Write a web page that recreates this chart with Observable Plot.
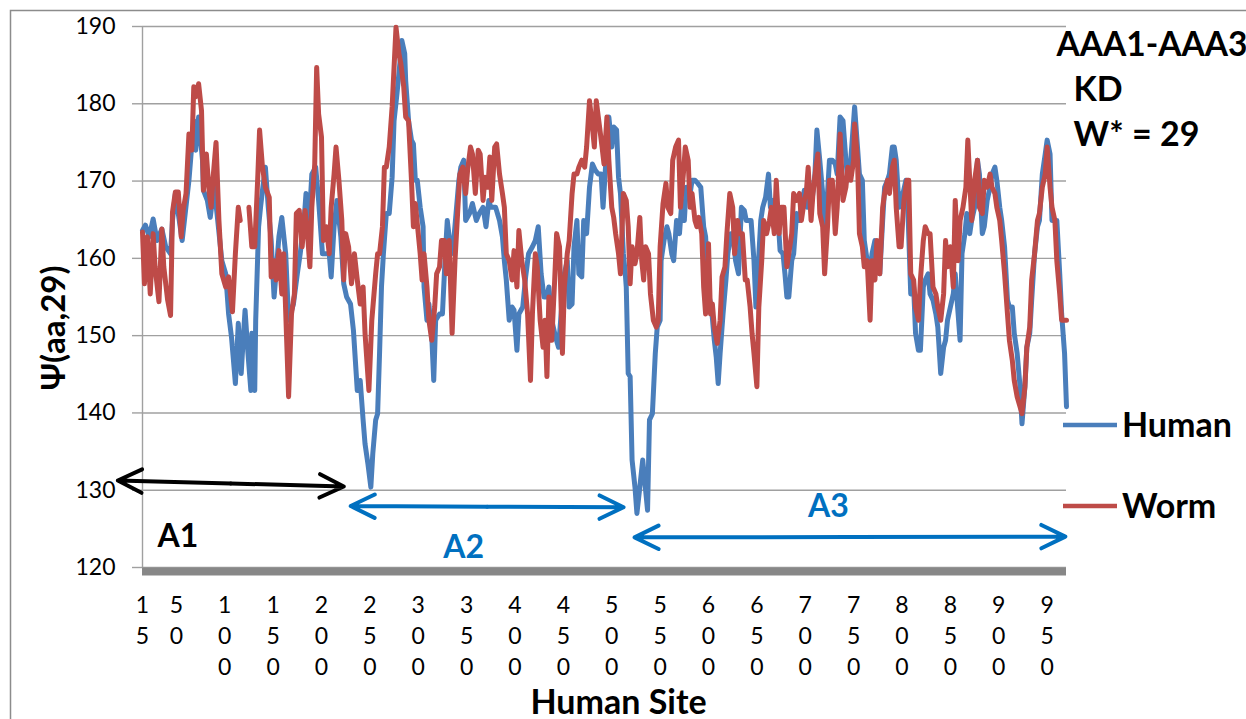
<!DOCTYPE html>
<html><head><meta charset="utf-8">
<script src="https://cdn.jsdelivr.net/npm/d3@7"></script>
<script src="https://cdn.jsdelivr.net/npm/@observablehq/plot@0.6"></script>
<style>html,body{margin:0;padding:0;background:#fff;overflow:hidden}#chart svg{display:block}</style>
</head><body><div id="chart"></div>
<script>
// ---- data ----
const xTickSites = [15,50,100,150,200,250,300,350,400,450,500,550,600,650,700,750,800,850,900,950];
const yTicks = [120,130,140,150,160,170,180,190];

const humanSite = [
15,18,22,26,30,35,39,44,46,49, 56,63,68,70,73,77,78,82,85,89, 92,97,101,104,107,109,111,114,117,119,
121,124,127,128,131,132,135,137,139,142, 145,148,151,153,156,159,163,166,168,171, 175,178,182,184,187,190,194,197,201,204,
208,210,213,216,220,223,226,230,233,237, 240,243,245,248,251,253,256,258,260,262, 264,267,270,273,275,278,281,283,286,287,
290,293,295,297,299,302,305,306,309,311, 314,316,318,322,325,328,330,334,337,342, 344,347,349,353,356,360,363,367,370,373,
375,378,380,384,387,389,391,394,397,399, 402,404,408,411,414,418,421,424,427,430, 433,435,438,442,445,448,451,454,456,459,
461,464,466,469,471,474,477,480,483,486, 489,491,494,497,500,502,505,507,509,512, 514,515,517,519,521,524,526,529,532,534,
537,539,542,545,547,550,551,554,557,559, 562,564,567,570,572,575,577,581,583,586, 589,592,595,597,600,603,606,608,610,612,
615,618,620,623,625,628,631,634,637,639, 642,644,647,649,651,654,656,659,662,664, 667,670,672,674,677,679,681,683,686,688,
691,694,696,699,702,705,707,710,712,715, 718,720,723,725,728,731,733,736,739,742, 744,747,750,751,754,756,759,761,764,767,
769,772,774,777,780,782,785,787,790,792, 794,797,799,801,804,806,809,812,814,817, 819,822,824,827,829,832,835,837,840,843,
845,847,850,853,855,858,860,862,865,867, 870,872,875,878,880,883,885,888,891,893, 896,898,901,903,906,909,911,914,916,919,
922,924,927,929,932,934,937,940,942,945, 948,950,953,955,958,960,963,965,968,970];
const humanPsi = [
163.6,164.3,162.8,165.1,162.3,163.8,161.5,160.6,164.9,168.4, 162.3,170.1,177.8,174.0,178.3,172.7,168.8,167.5,165.3,169.2, 165.8,159.7,158.0,152.8,149.8,146.8,143.8,151.6,145.1,149.4,
153.3,147.7,142.9,150.3,142.9,152.0,164.1,166.6,168.8,171.8, 166.6,162.3,155.0,158.0,162.8,165.3,160.6,152.0,152.8,154.1, 158.0,160.6,164.9,168.4,164.1,170.9,171.8,167.5,160.6,160.6,
160.6,157.6,164.1,167.5,162.8,156.7,155.0,154.1,150.7,142.9, 144.2,139.1,136.0,133.4,130.4,134.7,139.1,139.9,147.7,156.3, 160.6,165.8,165.8,170.5,177.8,181.3,185.2,188.2,186.5,183.0,
177.8,175.3,174.8,170.1,170.1,166.6,164.1,156.3,152.0,154.1, 149.8,144.2,152.0,152.8,152.8,160.6,164.9,160.6,162.8,170.1, 171.8,172.7,164.9,165.8,167.1,164.9,165.8,166.6,164.1,167.5,
166.6,166.6,166.6,164.9,162.8,159.7,157.2,152.0,153.7,153.3, 148.1,152.8,153.7,157.6,160.6,161.5,162.3,164.1,158.0,155.0, 155.0,156.3,152.0,149.8,148.5,153.3,158.0,159.7,153.7,154.1,
161.5,164.9,158.0,157.6,164.9,163.2,169.2,172.2,171.4,170.9, 170.9,166.6,172.7,178.3,174.4,177.0,176.6,170.5,168.4,160.6, 158.0,156.3,145.1,144.7,133.9,130.4,127.0,130.4,133.9,131.3,
127.4,139.1,139.9,147.7,151.1,152.0,159.7,162.3,164.1,163.2, 160.6,159.7,164.9,163.2,166.6,164.9,169.2,168.4,170.1,170.1, 169.7,169.2,164.1,162.8,155.4,153.7,149.4,147.2,143.8,147.7,
152.8,157.2,160.6,163.2,163.2,159.7,158.0,166.6,166.2,164.9, 164.9,164.9,159.7,153.7,158.0,164.9,166.6,167.9,170.9,166.6, 167.5,165.8,164.9,161.0,160.6,158.0,155.0,155.0,159.7,160.6,
165.8,164.9,166.6,168.8,166.6,169.2,167.5,170.9,176.6,172.7, 168.4,164.1,168.4,172.7,172.7,172.2,170.9,178.3,177.8,172.7, 170.1,172.7,177.8,179.6,174.4,170.9,170.1,162.3,159.7,158.0,
160.6,162.3,160.6,158.0,164.9,169.2,170.1,170.9,174.4,174.4, 172.7,166.6,168.4,168.4,170.1,166.6,155.4,156.3,150.3,148.1, 148.1,156.3,157.2,158.0,155.4,154.6,152.8,151.1,145.1,148.5,
149.4,152.0,153.7,155.4,158.0,152.8,149.4,160.6,163.2,165.8, 163.2,164.9,166.6,172.7,170.9,163.2,164.1,167.5,169.2,170.9, 171.8,170.1,166.6,164.9,161.5,154.6,153.7,153.7,150.3,147.7,
143.4,138.6,143.4,148.5,150.3,154.6,160.6,164.1,164.9,170.9, 173.5,175.3,173.5,164.9,164.9,164.9,158.0,152.8,147.7,140.8];

const wormSite = [
15,17,20,23,26,28,32,35,37,41, 44,46,49,52,55,57,60,63,66,68, 70,73,76,78,81,84,86,88,91,94,
97,101,104,108,111,114,116,120,125,128, 131,134,136,139,142,146,148,151,153,156, 159,161,164,166,169,172,174,177,180,183,
185,188,190,193,195,197,200,202,205,208, 210,213,215,218,221,223,225,228,231,234, 237,240,243,245,249,252,256,258,260,263,
265,267,270,273,275,277,280,282,285,287, 290,293,295,297,299,302,304,306,309,311, 314,317,319,322,324,327,329,332,335,338,
341,343,346,349,351,354,356,359,362,364, 367,369,372,374,376,379,381,384,387,389, 391,394,397,399,402,404,407,410,413,416,
418,421,423,426,429,431,433,435,438,441, 443,446,449,451,454,456,459,461,464,466, 469,472,474,477,480,482,484,487,490,492,
495,497,500,502,504,507,509,512,515,517, 519,521,524,526,529,531,533,535,538,540, 543,546,548,550,553,556,558,561,563,566,
569,571,574,576,579,581,583,586,588,590, 593,595,597,600,602,604,606,609,612,614, 617,619,622,625,627,630,632,635,638,640,
643,645,647,650,652,655,657,660,663,665, 668,670,673,675,678,681,683,686,688,691, 694,696,699,701,703,706,708,711,713,715,
718,720,723,725,728,731,733,736,739,742, 744,747,750,751,754,756,759,761,764,767, 769,772,774,777,780,782,785,787,790,792,
794,797,799,802,805,807,809,812,814,817, 819,822,824,827,829,832,835,837,840,843, 845,847,850,853,855,858,860,863,866,868,
871,872,875,878,880,883,885,888,891,893, 896,898,901,903,906,909,911,914,916,919, 922,924,927,929,932,934,937,940,942,945,
948,950,953,955,958,960,963,965,968,970];
const wormPsi = [
163.4,156.7,162.8,155.4,163.2,158.9,154.4,163.8,158.9,154.6, 152.6,166.0,168.6,168.6,162.8,166.2,168.4,176.1,174.0,182.2, 180.9,182.6,179.1,168.8,173.5,168.4,166.6,170.5,175.0,164.9,
158.0,156.3,157.6,153.1,160.6,166.6,164.9,null,166.6,161.5, 161.5,170.1,176.6,171.8,169.2,167.9,157.6,159.7,157.2,161.0, 155.4,160.6,149.4,142.1,152.8,155.4,165.8,166.2,161.5,166.2,
164.1,158.9,166.6,172.2,184.7,178.7,175.7,162.3,164.1,160.6, 166.6,170.9,174.4,170.1,164.9,157.2,163.2,161.5,156.7,160.6, 157.2,154.1,156.3,150.3,142.9,152.0,158.0,160.6,160.6,164.1,
171.8,171.8,174.4,179.6,184.7,189.9,186.5,185.2,182.2,178.3, 177.8,170.1,164.1,167.1,164.5,160.6,157.2,160.6,156.3,152.0, 149.4,153.7,158.0,158.9,162.3,162.3,158.0,162.3,150.3,159.7,
166.6,170.9,171.8,168.4,171.4,174.4,173.5,168.4,174.0,173.5, 167.5,170.5,169.2,173.1,167.5,174.4,174.8,170.9,168.4,166.6, 160.6,159.7,157.2,161.0,156.3,163.6,159.7,157.2,152.8,144.2,
152.8,160.6,158.9,152.0,148.5,152.0,144.7,155.0,149.4,157.2, 163.2,161.5,147.7,156.3,160.6,162.3,168.4,170.9,170.9,171.8, 172.7,171.8,174.4,180.4,177.0,174.4,180.4,177.4,174.4,172.2,
178.3,172.7,166.6,165.3,163.2,160.6,158.0,168.4,167.5,164.1, 156.7,161.5,159.3,160.6,165.3,159.7,157.2,161.5,160.6,155.4, 152.0,151.1,152.0,161.5,167.1,169.7,166.6,165.8,172.7,174.4,
175.3,166.6,170.9,174.4,172.7,166.6,168.4,164.9,164.1,165.3, 163.2,156.3,152.8,161.9,152.8,154.1,151.1,149.0,152.0,157.6, 158.9,163.2,168.4,166.6,160.6,164.9,163.2,163.2,157.2,157.2,
153.7,150.3,147.7,143.4,153.7,159.7,164.9,163.2,164.9,166.6, 163.2,170.1,163.2,166.6,166.6,158.9,160.6,163.2,168.4,167.5, 168.4,164.9,167.5,168.4,171.8,164.9,168.4,171.8,173.5,165.8,
164.1,158.0,164.1,170.1,170.1,163.2,166.6,176.1,167.5,169.2, 171.8,170.1,172.7,177.4,172.7,163.2,161.5,158.9,159.7,152.0, 159.7,157.2,162.3,158.0,166.6,168.4,170.1,168.4,171.8,172.7,
166.6,161.5,161.5,167.5,170.1,170.1,158.0,157.2,153.7,152.0, 157.2,162.3,164.1,163.2,163.2,156.3,155.4,153.7,152.0,155.4, 162.3,158.9,161.5,156.3,167.5,159.7,164.9,166.6,169.2,175.3,
167.5,164.9,170.1,172.7,166.6,165.8,170.1,169.2,170.9,169.2, 168.4,166.6,164.9,162.3,158.0,152.8,149.4,146.8,144.2,142.1, 140.8,139.9,143.4,148.5,151.1,157.2,160.6,164.9,165.8,169.2,
170.9,174.4,169.2,166.6,164.9,159.7,155.4,152.0,152.0,152.0];

const seriesNames = ["Human", "Worm"];
const seriesColors = ["#4A7EBB", "#BE4B48"];
const infoLines = ["AAA1-AAA3", "KD", "W* = 29"];

// double-headed region arrows (site, Ψ)
const regionSpans = [
  {name: "A1", x1: -10.5, y1: 131.26, x2: 223, y2: 130.48, color: "#000000"},
  {name: "A2", x1: 230.2, y1: 127.95, x2: 512.2, y2: 127.8, color: "#0070C0"},
  {name: "A3", x1: 523.6, y1: 123.9, x2: 968.8, y2: 124.0, color: "#0070C0"}
];
const regionLabels = [
  {text: "A1", x: 51.5, y: 124.0, color: "#000000"},
  {text: "A2", x: 347, y: 122.5, color: "#0070C0"},
  {text: "A3", x: 724, y: 127.8, color: "#0070C0"}
];

// ---- build tables ----
const human = humanSite.map((s, i) => ({site: s, psi: humanPsi[i]}));
const worm = wormSite.map((s, i) => ({site: s, psi: wormPsi[i]}));
const arrowHalves = regionSpans.flatMap(d => {
  const mx = (d.x1 + d.x2) / 2, my = (d.y1 + d.y2) / 2;
  return [{x1: mx, y1: my, x2: d.x1, y2: d.y1, color: d.color}, {x1: mx, y1: my, x2: d.x2, y2: d.y2, color: d.color}];
});

const FONT = "Lato, 'Open Sans', 'DejaVu Sans', sans-serif";
const GRID = "#a0a0a0";

function decor(index, scales, values, dims) {
  const g = d3.create("svg:g");
  // outer chart border
  g.append("rect").attr("x", 10.5).attr("y", 10.5).attr("width", 1400).attr("height", 900)
    .attr("fill", "none").attr("stroke", "#8c8c8c").attr("stroke-width", 1.5);
  // legend
  const right = dims.width - dims.marginRight;
  const ys = [425, 506];
  seriesNames.forEach((name, i) => {
    g.append("line").attr("x1", right - 3).attr("x2", right + 51).attr("y1", ys[i]).attr("y2", ys[i])
      .attr("stroke", seriesColors[i]).attr("stroke-width", 4.5);
    g.append("text").attr("x", right + 56).attr("y", ys[i]).attr("dy", "0.35em")
      .attr("text-anchor", "start")
      .attr("font-size", 34).attr("font-weight", "bold").attr("fill", "#000").text(name);
  });
  return g.node();
}

const chart = Plot.plot({
  width: 1246, height: 719,
  marginLeft: 142, marginRight: 180, marginTop: 26, marginBottom: 152,
  x: {domain: [15, 970]},
  y: {domain: [120, 190]},
  style: {fontFamily: FONT, fontSize: "23px", color: "#000", background: "#fff", overflow: "visible"},
  marks: [
    decor,
    Plot.gridY(yTicks, {stroke: GRID, strokeOpacity: 1, strokeWidth: 1.4}),
    Plot.ruleX([15], {stroke: GRID, strokeWidth: 1.4}),
    Plot.axisY({ticks: yTicks, tickSize: 10, tickPadding: 17, stroke: GRID, strokeWidth: 1.4, fontSize: 23, label: null, tickFormat: d => String(d)}),
    Plot.ruleY([120], {stroke: "#878787", strokeWidth: 8, dy: 4}),
    Plot.axisX({ticks: xTickSites, tickSize: 0, tickPadding: 23, fontSize: 23, lineHeight: 1.36, label: null,
      tickFormat: d => String(d).split("").join("\n")}),
    Plot.line(human, {x: "site", y: "psi", stroke: seriesColors[0], strokeWidth: 5, strokeLinejoin: "round"}),
    Plot.line(worm, {x: "site", y: "psi", stroke: seriesColors[1], strokeWidth: 5, strokeLinejoin: "round"}),
    Plot.arrow(arrowHalves.filter(d => d.color === "#000000"), {x1: "x1", y1: "y1", x2: "x2", y2: "y2", stroke: "#000", strokeWidth: 4, headLength: 10, headAngle: 52, strokeLinecap: "round", strokeLinejoin: "round"}),
    Plot.arrow(arrowHalves.filter(d => d.color !== "#000000"), {x1: "x1", y1: "y1", x2: "x2", y2: "y2", stroke: "#0070C0", strokeWidth: 4, headLength: 10, headAngle: 52, strokeLinecap: "round", strokeLinejoin: "round"}),
    Plot.text(regionLabels.filter(d => d.color === "#000000"), {x: "x", y: "y", text: "text", fill: "#000", fontSize: 32, fontWeight: "bold"}),
    Plot.text(regionLabels.filter(d => d.color !== "#000000"), {x: "x", y: "y", text: "text", fill: "#0070C0", fontSize: 32, fontWeight: "bold"}),
    Plot.text([infoLines[0]], {frameAnchor: "top-right", textAnchor: "start", lineAnchor: "middle", dx: -10, dy: 19, fontSize: 33.5, fontWeight: "bold", fill: "#000"}),
    Plot.text([infoLines[1]], {frameAnchor: "top-right", textAnchor: "start", lineAnchor: "middle", dx: 7, dy: 64, fontSize: 34, fontWeight: "bold", fill: "#000"}),
    Plot.text([infoLines[2]], {frameAnchor: "top-right", textAnchor: "start", lineAnchor: "middle", dx: 7, dy: 109, fontSize: 34, fontWeight: "bold", fill: "#000"}),
    Plot.text(["Ψ(aa,29)"], {frameAnchor: "left", textAnchor: "middle", lineAnchor: "middle", rotate: -90, dx: -88, dy: 31, fontSize: 33, fontWeight: "bold", fill: "#000"}),
    Plot.text(["Human Site"], {frameAnchor: "bottom", textAnchor: "middle", lineAnchor: "middle", dx: 14, dy: 136, fontSize: 34, fontWeight: "bold", fill: "#000"})
  ]
});
document.getElementById("chart").appendChild(chart);
</script>
</body></html>
